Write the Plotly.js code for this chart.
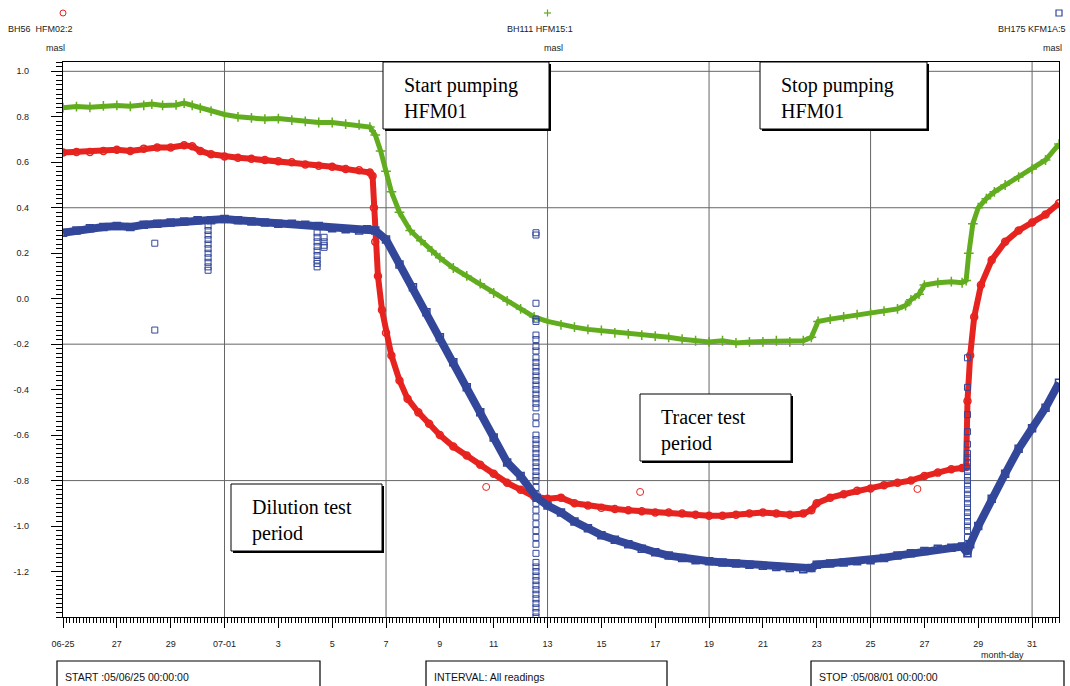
<!DOCTYPE html>
<html><head><meta charset="utf-8">
<script src="https://cdn.plot.ly/plotly-3.0.1.min.js"></script>
<style>html,body{margin:0;padding:0;background:#fff}#chart{width:1070px;height:686px}</style>
</head><body><div id="chart"></div>
<script>
// time in days since 2005-06-25 00:00
const greenDay = [0,0.5,1,1.5,2,2.5,3,3.3,3.7,4.2,4.5,4.8,5.1,5.5,6,6.5,7,7.5,8,8.5,9,9.5,10,10.5,11,11.4,11.6,11.8,12,12.2,12.5,12.9,13.3,13.7,14,14.5,15,15.5,16,16.5,17,17.5,18,18.5,19,19.5,20,20.5,21,21.5,22,22.5,23,23.5,24,24.5,25,25.5,26,26.5,27,27.5,27.8,28.05,28.5,29,29.5,30,30.5,31,31.3,31.5,31.8,32,32.5,33,33.4,33.55,33.65,33.8,34,34.3,34.6,35,35.5,36,36.5,37];
const greenVal = [0.84,0.845,0.842,0.848,0.85,0.846,0.85,0.856,0.85,0.852,0.86,0.85,0.838,0.825,0.81,0.8,0.795,0.79,0.792,0.785,0.78,0.775,0.775,0.768,0.765,0.755,0.72,0.65,0.56,0.47,0.38,0.3,0.255,0.21,0.18,0.135,0.1,0.066,0.025,-0.01,-0.045,-0.08,-0.1,-0.115,-0.125,-0.135,-0.14,-0.15,-0.155,-0.16,-0.165,-0.17,-0.178,-0.185,-0.19,-0.185,-0.195,-0.19,-0.19,-0.185,-0.19,-0.185,-0.17,-0.1,-0.09,-0.08,-0.07,-0.065,-0.055,-0.045,-0.03,-0.005,0.02,0.06,0.07,0.075,0.07,0.08,0.2,0.33,0.4,0.44,0.47,0.5,0.535,0.57,0.61,0.68];

const redDay = [0,0.5,1,1.5,2,2.5,3,3.5,4,4.5,4.8,5.1,5.5,6,6.5,7,7.5,8,8.5,9,9.5,10,10.5,11,11.4,11.5,11.55,11.6,11.7,11.85,12,12.2,12.5,12.8,13.2,13.6,14,14.5,15,15.5,16,16.5,17,17.5,18,18.5,19,19.5,20,20.5,21,21.5,22,22.5,23,23.5,24,24.5,25,25.5,26,26.5,27,27.5,27.8,28,28.5,29,29.5,30,30.5,31,31.5,32,32.5,33,33.4,33.55,33.6,33.7,33.85,34.1,34.5,35,35.5,36,36.5,37];
const redVal = [0.643,0.645,0.645,0.65,0.655,0.65,0.66,0.665,0.665,0.675,0.67,0.65,0.635,0.625,0.62,0.615,0.61,0.605,0.6,0.59,0.585,0.58,0.57,0.565,0.555,0.54,0.4,0.25,0.1,-0.05,-0.15,-0.25,-0.36,-0.44,-0.5,-0.55,-0.6,-0.65,-0.69,-0.73,-0.77,-0.81,-0.84,-0.87,-0.88,-0.875,-0.9,-0.91,-0.92,-0.925,-0.93,-0.935,-0.94,-0.94,-0.945,-0.95,-0.955,-0.955,-0.95,-0.945,-0.94,-0.945,-0.95,-0.945,-0.93,-0.9,-0.875,-0.86,-0.845,-0.835,-0.82,-0.81,-0.8,-0.78,-0.765,-0.75,-0.745,-0.74,-0.45,-0.25,-0.08,0.06,0.17,0.25,0.3,0.335,0.37,0.42];

const blueDay = [0,0.5,1,1.5,2,2.5,3,3.5,4,4.5,5,5.5,6,6.5,7,7.5,8,8.5,9,9.5,10,10.5,11,11.3,11.6,12,12.5,13,13.5,14,14.5,15,15.5,16,16.5,17,17.6,18,18.5,19,19.5,20,20.5,21,21.5,22,22.5,23,23.5,24,24.5,25,25.5,26,26.5,27,27.5,27.8,28,28.5,29,29.5,30,30.5,31,31.5,32,32.5,33,33.4,33.6,33.7,34,34.5,35,35.5,36,36.5,37];
const blueVal = [0.29,0.3,0.31,0.315,0.32,0.315,0.325,0.33,0.335,0.34,0.345,0.345,0.35,0.345,0.34,0.335,0.33,0.33,0.325,0.32,0.31,0.305,0.3,0.305,0.3,0.26,0.15,0.05,-0.06,-0.17,-0.28,-0.39,-0.5,-0.61,-0.72,-0.78,-0.875,-0.91,-0.94,-0.98,-1.01,-1.04,-1.06,-1.08,-1.1,-1.115,-1.13,-1.14,-1.15,-1.155,-1.16,-1.165,-1.17,-1.175,-1.18,-1.185,-1.19,-1.185,-1.17,-1.165,-1.16,-1.155,-1.15,-1.14,-1.13,-1.12,-1.11,-1.1,-1.095,-1.09,-1.12,-1.08,-1.0,-0.88,-0.77,-0.66,-0.57,-0.48,-0.37];

// isolated readings
const redOutDay = [15.72,21.44,31.74];
const redOutVal = [-0.828,-0.85,-0.837];
const blueSpikeDay = [3.41, 5.39, 9.44, 9.7, 17.57, 33.6];
const blueSpikeVals = [
  [0.244,-0.138],
  [0.32,0.3,0.28,0.26,0.24,0.22,0.2,0.18,0.16,0.14,0.125],
  [0.29,0.27,0.25,0.23,0.21,0.19,0.17,0.155,0.14],
  [0.27,0.25,0.235,0.226],
  [0.29,0.28,-0.02,-0.09,-0.1,-0.16,-0.18,-0.21,-0.23,-0.26,-0.28,-0.3,-0.32,-0.34,-0.36,-0.38,-0.4,-0.42,-0.44,-0.46,-0.48,-0.52,-0.55,-0.6,-0.62,-0.64,-0.66,-0.68,-0.7,-0.72,-0.74,-0.76,-0.78,-0.8,-0.83,-0.86,-0.9,-0.93,-0.96,-0.99,-1.02,-1.05,-1.08,-1.12,-1.16,-1.18,-1.2,-1.22,-1.24,-1.26,-1.28,-1.3,-1.32,-1.34,-1.36,-1.38,-1.4],
  [-0.26,-0.39,-0.51,-0.585,-0.64,-0.68,-0.7,-0.72,-0.74,-0.76,-0.78,-0.8,-0.82,-0.84,-0.86,-0.88,-0.9,-0.92,-0.94,-0.96,-0.98,-1.0,-1.02,-1.05,-1.08,-1.12]
];

const xTickDay = [0,2,4,6,8,10,12,14,16,18,20,22,24,26,28,30,32,34,36];
const xTickText = ['06-25','27','29','07-01','3','5','7','9','11','13','15','17','19','21','23','25','27','29','31'];
const yTickVals = [1.0,0.8,0.6,0.4,0.2,0.0,-0.2,-0.4,-0.6,-0.8,-1.0,-1.2];
const yTickText = ['1.0','0.8','0.6','0.4','0.2','0.0','-0.2','-0.4','-0.6','-0.8','-1.0','-1.2'];
const gridDay = [6,12,18,24,30,36];
const gridVal = [1.0,0.4,-0.2,-0.8];

const T0 = Date.UTC(2005,5,25);
function toDate(d){ return new Date(T0 + Math.round(d*86400000)).toISOString().slice(0,19).replace('T',' '); }
const dates = a => a.map(toDate);

const spikeX = [], spikeY = [];
blueSpikeDay.forEach((d,i) => blueSpikeVals[i].forEach(v => { spikeX.push(toDate(d)); spikeY.push(v); }));

const RED='#e6231f', GREEN='#62ad1f', BLUE='#33479a';

const traces = [
  {x:dates(redDay), y:redVal, mode:'lines+markers', line:{color:RED,width:6},
   marker:{symbol:'circle-open',size:7,color:RED,line:{width:1.5,color:RED}}, hoverinfo:'skip'},
  {x:dates(redOutDay), y:redOutVal, mode:'markers',
   marker:{symbol:'circle-open',size:7,color:RED,line:{width:1,color:RED}}, hoverinfo:'skip'},
  {x:dates(greenDay), y:greenVal, mode:'lines+markers', line:{color:GREEN,width:5},
   marker:{symbol:'cross-thin-open',size:7,color:GREEN,line:{width:1.5,color:GREEN}}, hoverinfo:'skip'},
  {x:dates(blueDay), y:blueVal, mode:'lines+markers', line:{color:BLUE,width:8},
   marker:{symbol:'square-open',size:7,color:BLUE,line:{width:1.5,color:BLUE}}, hoverinfo:'skip'},
  {x:spikeX, y:spikeY, mode:'markers', cliponaxis:true,
   marker:{symbol:'square-open',size:6,color:BLUE,line:{width:1,color:BLUE}}, hoverinfo:'skip'}
];

// pixel -> paper helpers for decoration
const L=63, R=1059, TOP=62, BOT=617;
const px = x => (x-L)/(R-L);
const py = y => (BOT-y)/(BOT-TOP);

const shapes = [];
gridDay.forEach(d => shapes.push({type:'line',layer:'below',xref:'x',yref:'paper',x0:toDate(d),x1:toDate(d),y0:0,y1:1,line:{color:'#666',width:1}}));
gridVal.forEach(v => shapes.push({type:'line',layer:'below',xref:'paper',yref:'y',x0:0,x1:1,y0:v,y1:v,line:{color:'#666',width:1}}));

const annotations = [];
function box(x0,y0,x1,y1,lines){
  shapes.push({type:'rect',xref:'paper',yref:'paper',x0:px(x0+2),x1:px(x1+2),y0:py(y1+2),y1:py(y0+2),fillcolor:'#000',line:{width:0}});
  shapes.push({type:'rect',xref:'paper',yref:'paper',x0:px(x0),x1:px(x1),y0:py(y1),y1:py(y0),fillcolor:'#fff',line:{color:'#000',width:1}});
  annotations.push({xref:'paper',yref:'paper',x:px(x0+19),y:py(y0+10),xanchor:'left',yanchor:'top',align:'left',
    text:lines.join('<br>'),showarrow:false,font:{family:'Liberation Serif',size:20,color:'#000'}});
}
box(383,62,549,129,['Start pumping','HFM01']);
box(760,62,927,129,['Stop pumping','HFM01']);
box(640,394,791,461,['Tracer test','period']);
box(231,484,382,551,['Dilution test','period']);

function smallText(x,y,t,anchor){
  annotations.push({xref:'paper',yref:'paper',x:px(x),y:py(y),xanchor:anchor||'center',yanchor:'middle',text:t,showarrow:false,
    font:{family:'Liberation Sans',size:9,color:'#222'}});
}
smallText(40,29,'BH56&nbsp;&nbsp;HFM02:2');
smallText(55,48,'masl');
smallText(540,29,'BH111 HFM15:1');
smallText(553,48,'masl');
smallText(1068,29,'BH175 KFM1A:5','right');
smallText(1052,48,'masl');
smallText(1002,655,'month-day');

// legend symbols
shapes.push({type:'circle',xref:'paper',yref:'paper',x0:px(60),x1:px(66),y0:py(16),y1:py(10),line:{color:RED,width:1}});
shapes.push({type:'line',xref:'paper',yref:'paper',x0:px(544),x1:px(551),y0:py(13),y1:py(13),line:{color:GREEN,width:1.2}});
shapes.push({type:'line',xref:'paper',yref:'paper',x0:px(547.5),x1:px(547.5),y0:py(9.5),y1:py(16.5),line:{color:GREEN,width:1.2}});
shapes.push({type:'rect',xref:'paper',yref:'paper',x0:px(1056),x1:px(1062),y0:py(16),y1:py(10),line:{color:BLUE,width:1.2}});

// bottom info boxes
function infoBox(x0,x1,t){
  shapes.push({type:'rect',xref:'paper',yref:'paper',x0:px(x0),x1:px(x1),y0:py(700),y1:py(661),line:{color:'#000',width:1.2}});
  annotations.push({xref:'paper',yref:'paper',x:px(x0+6),y:py(677),xanchor:'left',yanchor:'middle',text:t,showarrow:false,
    font:{family:'Liberation Sans',size:10.5,color:'#111'}});
}
infoBox(57,320,'START :05/06/25 00:00:00');
infoBox(426,667,'INTERVAL: All readings');
infoBox(811,1064,'STOP :05/08/01 00:00:00');

const layout = {
  width:1070, height:686,
  margin:{l:L, r:1070-R, t:TOP, b:686-BOT, pad:0},
  paper_bgcolor:'#fff', plot_bgcolor:'#fff',
  showlegend:false,
  font:{family:'Liberation Sans',size:9,color:'#222'},
  xaxis:{type:'date', range:[toDate(0),toDate(37)], tickvals:dates(xTickDay), ticktext:xTickText,
    ticks:'outside', ticklen:10, tickwidth:1, tickcolor:'#000', showgrid:false, zeroline:false,
    showline:true, linecolor:'#000', linewidth:1.2, mirror:true, ticklabelstandoff:8,
    tickfont:{family:'Liberation Sans',size:9,color:'#222'},
    minor:{dtick:3*3600*1000, tick0:toDate(0), ticks:'outside', ticklen:5, tickcolor:'#000', tickwidth:1, showgrid:false}},
  yaxis:{range:[-1.4,1.041], tickvals:yTickVals, ticktext:yTickText,
    ticks:'outside', ticklen:11, tickwidth:1, tickcolor:'#000', showgrid:false, zeroline:false,
    showline:true, linecolor:'#000', linewidth:1.2, mirror:true, ticklabelstandoff:20,
    tickfont:{family:'Liberation Sans',size:9,color:'#222'},
    minor:{dtick:0.02, tick0:0, ticks:'outside', ticklen:6, tickcolor:'#000', tickwidth:1, showgrid:false}},
  shapes:shapes, annotations:annotations
};
Plotly.newPlot('chart', traces, layout, {staticPlot:true});
</script></body></html>
